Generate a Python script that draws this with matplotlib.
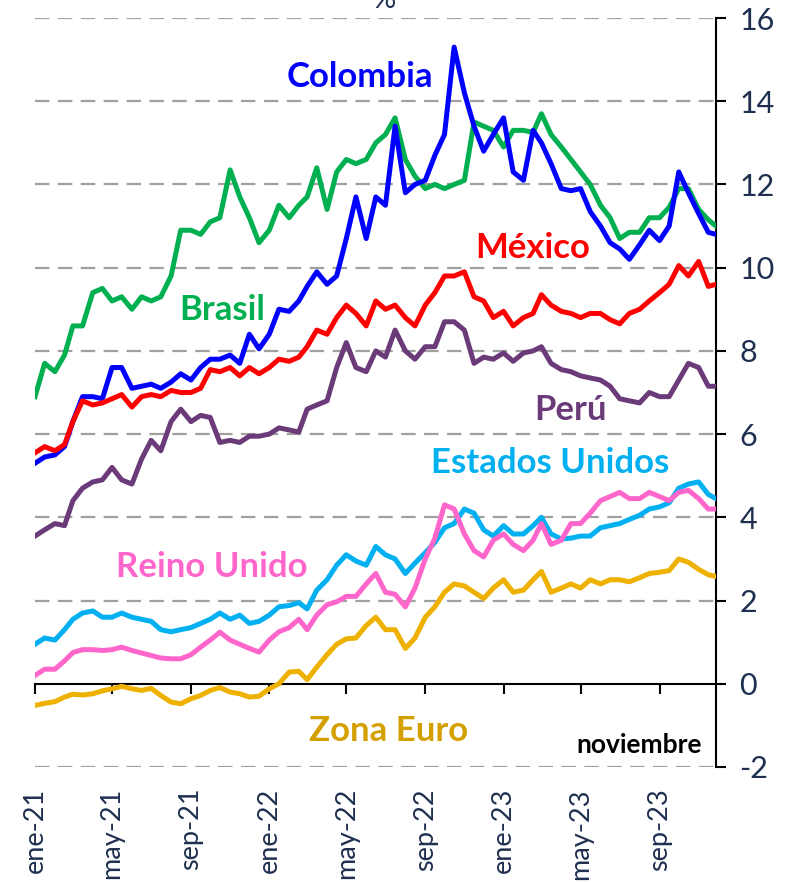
import matplotlib
matplotlib.use('Agg')
import matplotlib.pyplot as plt
import pandas as pd

# fechas: dia 1 y 16 de cada mes (ene-21 a nov-23) + ultimo dato
dates = [pd.Timestamp(y, m, d) for y in (2021, 2022, 2023) for m in range(1, 13) for d in (1, 16)
         if pd.Timestamp(y, m, d) <= pd.Timestamp(2023, 11, 16)]
dates.append(pd.Timestamp(2023, 11, 28))

colombia = [5.3, 5.45, 5.5, 5.7, 6.3, 6.9, 6.9, 6.85, 7.6, 7.6,
            7.1, 7.15, 7.2, 7.1, 7.25, 7.45, 7.3, 7.6, 7.8, 7.8,
            7.9, 7.7, 8.4, 8.05, 8.4, 9.0, 8.95, 9.2, 9.55, 9.9,
            9.6, 9.8, 10.7, 11.7, 10.7, 11.7, 11.5, 13.4, 11.8, 12.0,
            12.1, 12.7, 13.2, 15.3, 14.2, 13.4, 12.8, 13.2, 13.6, 12.3,
            12.1, 13.3, 13.0, 12.5, 11.9, 11.85, 11.9, 11.35, 11.0, 10.6,
            10.45, 10.2, 10.55, 10.9, 10.65, 11.0, 12.3, 11.8, 11.3, 10.85,
            10.8]
brasil = [6.9, 7.7, 7.5, 7.9, 8.6, 8.6, 9.4, 9.5, 9.2, 9.3,
          9.0, 9.3, 9.2, 9.3, 9.8, 10.9, 10.9, 10.8, 11.1, 11.2,
          12.35, 11.7, 11.2, 10.6, 10.9, 11.5, 11.2, 11.5, 11.7, 12.4,
          11.4, 12.3, 12.6, 12.5, 12.6, 13.0, 13.2, 13.6, 12.6, 12.2,
          11.9, 12.0, 11.9, 12.0, 12.1, 13.5, 13.4, 13.3, 12.9, 13.3,
          13.3, 13.25, 13.7, 13.2, 12.9, 12.6, 12.3, 12.0, 11.5, 11.2,
          10.7, 10.85, 10.85, 11.2, 11.2, 11.45, 11.9, 11.9, 11.4, 11.15,
          11.0]
mexico = [5.55, 5.7, 5.6, 5.75, 6.3, 6.8, 6.7, 6.75, 6.85, 6.95,
          6.65, 6.9, 6.95, 6.9, 7.05, 7.0, 7.0, 7.1, 7.55, 7.5,
          7.6, 7.4, 7.6, 7.45, 7.6, 7.8, 7.75, 7.85, 8.1, 8.5,
          8.4, 8.8, 9.1, 8.9, 8.6, 9.2, 9.0, 9.1, 8.8, 8.6,
          9.1, 9.4, 9.8, 9.8, 9.9, 9.3, 9.2, 8.8, 8.95, 8.6,
          8.8, 8.9, 9.35, 9.1, 8.95, 8.9, 8.8, 8.9, 8.9, 8.75,
          8.65, 8.9, 9.0, 9.2, 9.4, 9.6, 10.05, 9.8, 10.15, 9.55,
          9.6]
peru = [3.55, 3.7, 3.85, 3.8, 4.4, 4.7, 4.85, 4.9, 5.2, 4.9,
        4.8, 5.4, 5.85, 5.6, 6.3, 6.6, 6.3, 6.45, 6.4, 5.8,
        5.85, 5.8, 5.95, 5.95, 6.0, 6.15, 6.1, 6.05, 6.6, 6.7,
        6.8, 7.6, 8.2, 7.6, 7.5, 8.0, 7.85, 8.5, 8.0, 7.8,
        8.1, 8.1, 8.7, 8.7, 8.5, 7.7, 7.85, 7.8, 7.95, 7.75,
        7.95, 8.0, 8.1, 7.7, 7.55, 7.5, 7.4, 7.35, 7.3, 7.15,
        6.85, 6.8, 6.75, 7.0, 6.9, 6.9, 7.3, 7.7, 7.6, 7.15,
        7.15]
eeuu = [0.95, 1.1, 1.05, 1.3, 1.55, 1.7, 1.75, 1.6, 1.6, 1.7,
        1.6, 1.55, 1.5, 1.3, 1.25, 1.3, 1.35, 1.45, 1.55, 1.7,
        1.55, 1.65, 1.45, 1.5, 1.65, 1.85, 1.88, 1.95, 1.8, 2.25,
        2.5, 2.85, 3.1, 2.95, 2.85, 3.3, 3.1, 3.0, 2.65, 2.9,
        3.15, 3.4, 3.75, 3.85, 4.2, 4.1, 3.7, 3.55, 3.8, 3.6,
        3.6, 3.8, 4.0, 3.6, 3.48, 3.5, 3.55, 3.55, 3.75, 3.8,
        3.85, 3.95, 4.05, 4.2, 4.25, 4.35, 4.7, 4.8, 4.85, 4.55,
        4.45]
reino_unido = [0.2, 0.35, 0.35, 0.55, 0.75, 0.82, 0.82, 0.8, 0.82, 0.88,
               0.8, 0.74, 0.68, 0.62, 0.6, 0.6, 0.7, 0.88, 1.05, 1.24,
               1.05, 0.95, 0.85, 0.76, 1.05, 1.25, 1.35, 1.55, 1.3, 1.65,
               1.9, 1.97, 2.1, 2.1, 2.4, 2.65, 2.2, 2.15, 1.85, 2.3,
               3.0, 3.5, 4.3, 4.2, 3.6, 3.2, 3.05, 3.45, 3.6, 3.35,
               3.2, 3.45, 3.85, 3.35, 3.45, 3.85, 3.85, 4.1, 4.4, 4.5,
               4.6, 4.45, 4.45, 4.6, 4.5, 4.4, 4.6, 4.65, 4.45, 4.2,
               4.2]
zona_euro = [-0.52, -0.47, -0.43, -0.32, -0.25, -0.27, -0.24, -0.17, -0.12, -0.06,
             -0.12, -0.16, -0.11, -0.28, -0.44, -0.48, -0.36, -0.28, -0.16, -0.09,
             -0.2, -0.24, -0.32, -0.3, -0.12, 0.0, 0.28, 0.3, 0.1, 0.4,
             0.7, 0.95, 1.08, 1.1, 1.4, 1.6, 1.3, 1.3, 0.85, 1.1,
             1.6, 1.85, 2.2, 2.4, 2.35, 2.2, 2.05, 2.3, 2.5, 2.2,
             2.25, 2.5, 2.7, 2.2, 2.3, 2.4, 2.3, 2.5, 2.4, 2.5,
             2.5, 2.45, 2.55, 2.65, 2.68, 2.72, 3.0, 2.92, 2.75, 2.62,
             2.58]

tick_dates = [pd.Timestamp(y, m, 1) for y in (2021, 2022, 2023) for m in (1, 5, 9)]
tick_labels = ['ene-21', 'may-21', 'sep-21', 'ene-22', 'may-22', 'sep-22',
               'ene-23', 'may-23', 'sep-23']
y_ticks = list(range(-2, 17, 2))

# (serie, color linea, etiqueta, color etiqueta, fecha etiqueta, y etiqueta)
series = [
    (zona_euro, '#EEB100', 'Zona Euro', '#D4A000', '2022-07-06', -1.14),
    (eeuu, '#00B0F0', 'Estados Unidos', '#00B0F0', '2023-03-15', 5.3),
    (reino_unido, '#FF66CC', 'Reino Unido', '#FF66CC', '2021-10-04', 2.8),
    (peru, '#6B3A78', 'Perú', '#6B3A78', '2023-04-16', 6.58),
    (brasil, '#00B050', 'Brasil', '#00B050', '2021-10-19', 8.98),
    (colombia, '#0000FF', 'Colombia', '#0000FF', '2022-05-22', 14.58),
    (mexico, '#FF0000', 'México', '#FF0000', '2023-02-16', 10.47),
]

navy = '#1F2F4F'
plt.rcParams['font.family'] = ['Lato', 'DejaVu Sans']

fig = plt.figure(figsize=(7.97, 8.83), dpi=100)
ax = fig.add_axes([35 / 797, 1 - 767 / 883, 681 / 797, 749 / 883])

for y in y_ticks:
    if y != 0:
        ax.axhline(y, color='#A0A0A0', lw=1.6, ls=(0, (6.5, 3.8)), zorder=1)

for vals, col, name, tcol, tx, ty in series:
    ax.plot(dates, vals, color=col, lw=3.6, solid_joinstyle='round', zorder=3)
    ax.text(pd.Timestamp(tx), ty, name, color=tcol, fontsize=25, fontweight='bold',
            ha='center', va='center', zorder=4)

ax.set_xlim(pd.Timestamp(2021, 1, 1), pd.Timestamp(2023, 11, 28))
ax.set_ylim(-2, 16)

for s in ('top', 'left'):
    ax.spines[s].set_visible(False)
ax.spines['bottom'].set_position(('data', 0))
ax.spines['bottom'].set_linewidth(1.5)
ax.spines['right'].set_linewidth(1.5)

ax.set_xticks(tick_dates)
ax.tick_params(axis='x', direction='out', length=7, width=1.5, labelbottom=False)
for d, lbl in zip(tick_dates, tick_labels):
    ax.annotate(lbl, xy=(d, -2), xytext=(0, -21), textcoords='offset pixels',
                rotation=90, ha='center', va='top', fontsize=19.5, color=navy,
                annotation_clip=False)

ax.yaxis.tick_right()
ax.set_yticks(y_ticks)
ax.set_yticklabels([str(v) for v in y_ticks])
ax.tick_params(axis='y', direction='out', length=7, width=1.5, pad=10,
               labelsize=22, labelcolor=navy)

ax.text(pd.Timestamp(2022, 6, 29), 16.43, '%', fontsize=21, color=navy,
        ha='center', va='center', clip_on=False)
ax.text(pd.Timestamp(2023, 11, 6), -1.48, 'noviembre', fontsize=19,
        fontweight='bold', color='black', ha='right', va='center')

fig.savefig('out.png', dpi=100)
